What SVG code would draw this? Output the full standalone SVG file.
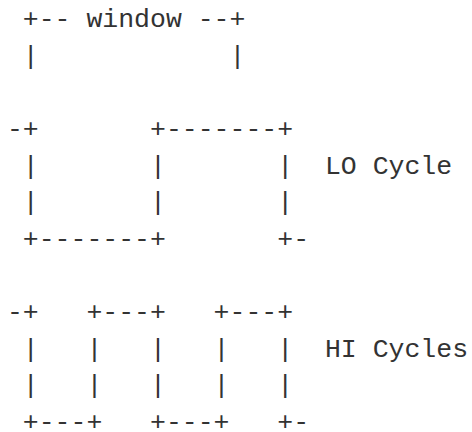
<svg xmlns="http://www.w3.org/2000/svg" width="472" height="432" viewBox="0 0 472 432">
<style>
text{font-family:"Liberation Mono","Courier New",monospace;font-size:26.5px;fill:#333;white-space:pre}
</style>
<rect width="472" height="432" fill="#fff"/>
<g id="window">
<text x="6.9" y="27" xml:space="preserve"> +-- window --+</text>
<text x="6.9" y="63.6" xml:space="preserve"> |            |</text>
</g>
<g id="lo-cycle">
<text x="6.9" y="136.9" xml:space="preserve">-+       +-------+</text>
<text x="6.9" y="173.5" xml:space="preserve"> |       |       |  LO Cycle</text>
<text x="6.9" y="210.2" xml:space="preserve"> |       |       |</text>
<text x="6.9" y="246.8" xml:space="preserve"> +-------+       +-</text>
</g>
<g id="hi-cycles">
<text x="6.9" y="320" xml:space="preserve">-+   +---+   +---+</text>
<text x="6.9" y="356.7" xml:space="preserve"> |   |   |   |   |  HI Cycles</text>
<text x="6.9" y="393.3" xml:space="preserve"> |   |   |   |   |</text>
<text x="6.9" y="430" xml:space="preserve"> +---+   +---+   +-</text>
</g>
</svg>
